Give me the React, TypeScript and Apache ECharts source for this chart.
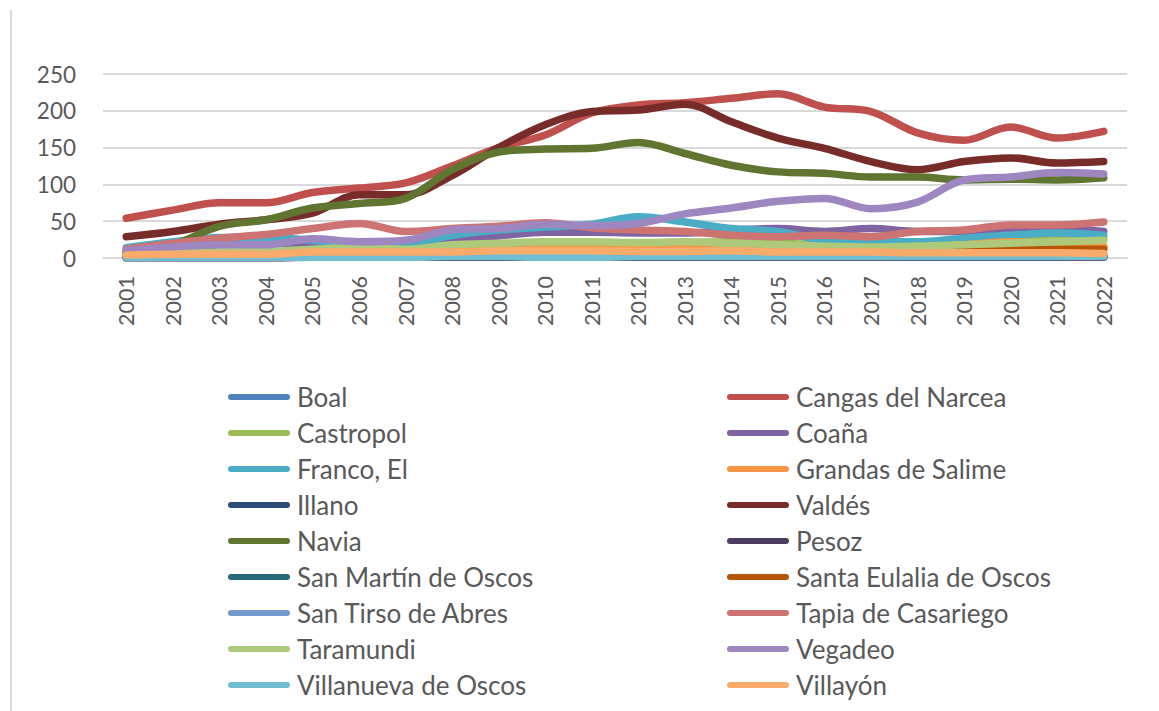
import React, { useEffect, useRef } from "react";
import * as echarts from "echarts";

const years = ["2001","2002","2003","2004","2005","2006","2007","2008","2009","2010","2011","2012","2013","2014","2015","2016","2017","2018","2019","2020","2021","2022"];

const boal = [6, 7, 7, 8, 8, 8, 9, 10, 10, 11, 10, 11, 11, 10, 10, 12, 12, 14, 13, 14, 14, 14];
const cangas = [54, 65, 75, 75, 89, 95, 102, 125, 150, 167, 197, 208, 211, 217, 223, 205, 199, 170, 160, 178, 163, 172];
const castropol = [4, 6, 7, 8, 10, 10, 10, 15, 18, 20, 21, 20, 21, 22, 20, 18, 16, 17, 20, 24, 26, 27];
const coana = [8, 14, 18, 20, 20, 18, 20, 25, 30, 35, 35, 34, 34, 38, 40, 36, 40, 36, 36, 37, 40, 36];
const franco = [14, 22, 28, 28, 24, 20, 18, 31, 38, 42, 46, 56, 49, 40, 36, 24, 22, 22, 27, 31, 34, 31];
const grandas = [3, 4, 4, 5, 6, 6, 6, 8, 10, 12, 12, 13, 13, 14, 12, 11, 12, 15, 18, 22, 18, 16];
const illano = [1, 1, 1, 1, 1, 1, 1, 1, 1, 1, 1, 2, 2, 2, 2, 2, 2, 2, 2, 2, 2, 2];
const valdes = [29, 36, 46, 52, 61, 86, 86, 112, 150, 181, 199, 201, 209, 185, 163, 149, 131, 120, 131, 136, 129, 131];
const navia = [8, 18, 43, 52, 68, 74, 81, 120, 144, 148, 149, 157, 142, 126, 117, 115, 110, 110, 106, 107, 106, 109];
const pesoz = [0, 0, 0, 0, 1, 1, 1, 1, 1, 1, 1, 1, 1, 1, 1, 1, 1, 1, 1, 1, 1, 1];
const sanMartin = [1, 1, 1, 1, 1, 2, 2, 2, 2, 2, 2, 2, 2, 2, 3, 3, 3, 3, 3, 3, 3, 3];
const santaEulalia = [2, 2, 2, 2, 2, 3, 3, 3, 4, 4, 4, 4, 5, 5, 5, 6, 7, 8, 10, 13, 12, 12];
const sanTirso = [2, 2, 2, 3, 3, 3, 3, 3, 3, 3, 3, 4, 4, 4, 4, 4, 4, 4, 5, 5, 5, 5];
const tapia = [12, 20, 27, 32, 40, 47, 36, 40, 43, 48, 41, 38, 36, 31, 29, 31, 29, 36, 38, 45, 45, 49];
const taramundi = [5, 7, 8, 9, 12, 14, 12, 18, 20, 22, 22, 21, 22, 20, 18, 16, 15, 16, 18, 20, 22, 24];
const vegadeo = [10, 15, 18, 18, 26, 22, 24, 38, 40, 46, 44, 47, 60, 68, 77, 81, 67, 76, 106, 110, 116, 114];
const villanueva = [1, 1, 1, 1, 1, 1, 1, 2, 2, 1, 1, 2, 2, 2, 2, 2, 2, 2, 2, 2, 2, 2];
const villayon = [4, 5, 5, 5, 8, 8, 8, 8, 10, 10, 10, 9, 9, 10, 8, 8, 8, 7, 7, 7, 7, 6];

const seriesNames = [
  "Boal", "Cangas del Narcea", "Castropol", "Coaña", "Franco, El", "Grandas de Salime",
  "Illano", "Valdés", "Navia", "Pesoz", "San Martín de Oscos", "Santa Eulalia de Oscos",
  "San Tirso de Abres", "Tapia de Casariego", "Taramundi", "Vegadeo", "Villanueva de Oscos", "Villayón",
];
const seriesValues = [
  boal, cangas, castropol, coana, franco, grandas, illano, valdes, navia, pesoz,
  sanMartin, santaEulalia, sanTirso, tapia, taramundi, vegadeo, villanueva, villayon,
];
const seriesColors = [
  "#4F81BD", "#C0504D", "#9BBB59", "#8064A2", "#4BACC6", "#F79646",
  "#2C4D75", "#772C2A", "#5F7530", "#4D3B62", "#276A7C", "#B65708",
  "#729ACA", "#CD7371", "#AFC97A", "#9E86C0", "#6FBDD1", "#F9AB6B",
];

const FONT = "Lato";
const TEXT = "#595959";
const ICON = "path://M3,0 L59,0 A3,3 0 0 1 59,6 L3,6 A3,3 0 0 1 3,0 Z";

export default function App() {
  const ref = useRef<HTMLDivElement>(null);
  useEffect(() => {
    if (!ref.current) return;
    const chart = echarts.init(ref.current, null, { renderer: "svg" });
    const legendCommon = {
      orient: "vertical",
      icon: ICON,
      itemWidth: 62,
      itemHeight: 6,
      itemGap: 10,
      height: 360,
      textStyle: { color: TEXT, fontFamily: FONT, fontSize: 26, lineHeight: 26, padding: [0, 0, 0, 2] },
      padding: 0,
    };
    chart.setOption({
      animation: false,
      backgroundColor: "#ffffff",
      color: seriesColors,
      grid: { left: 103, right: 32, top: 74, bottom: 453, containLabel: false },
      xAxis: {
        type: "category",
        data: years,
        boundaryGap: true,
        axisLine: { show: true, lineStyle: { color: "#D9D9D9", width: 2 } },
        axisTick: { show: false },
        axisLabel: { rotate: 90, color: TEXT, fontFamily: FONT, fontSize: 21.5, margin: 18, interval: 0 },
      },
      yAxis: {
        type: "value",
        min: 0,
        max: 250,
        interval: 50,
        axisLine: { show: false },
        axisTick: { show: false },
        splitLine: { lineStyle: { color: "#D9D9D9", width: 2 } },
        axisLabel: { color: TEXT, fontFamily: FONT, fontSize: 22.5, margin: 27 },
      },
      legend: [
        { ...legendCommon, left: 228, top: 384, data: seriesNames.filter((_, i) => i % 2 === 0) },
        { ...legendCommon, left: 727, top: 384, data: seriesNames.filter((_, i) => i % 2 === 1) },
      ],
      graphic: [
        { type: "line", shape: { x1: 11, y1: 10, x2: 11, y2: 711 }, style: { stroke: "#D9D9D9", lineWidth: 2 } },
      ],
      series: seriesNames.map((name, i) => ({
        name,
        type: "line",
        data: seriesValues[i],
        smooth: 0.35,
        symbol: "none",
        showSymbol: false,
        lineStyle: { width: 7.5, color: seriesColors[i], cap: "round", join: "round" },
        itemStyle: { color: seriesColors[i] },
      })),
    });
    return () => chart.dispose();
  }, []);
  return <div ref={ref} style={{ position: "fixed", left: 0, top: 0, width: 1159, height: 711 }} />;
}
